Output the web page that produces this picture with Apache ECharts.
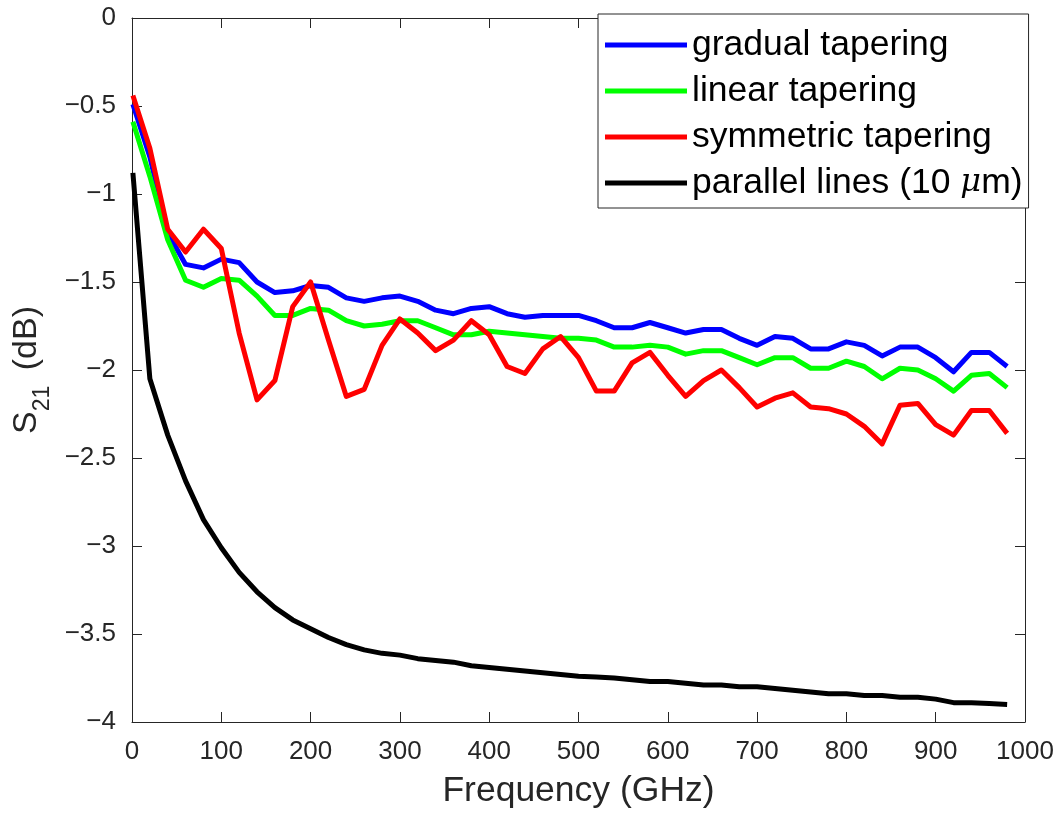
<!DOCTYPE html>
<html>
<head>
<meta charset="utf-8">
<script src="https://cdn.jsdelivr.net/npm/echarts@6/dist/echarts.min.js"></script>
<style>html,body{margin:0;padding:0;background:#fff;}#c{width:1061px;height:817px;}</style>
</head>
<body>
<div id="c"></div>
<script>
const freq = [1,20,40,60,80,100,120,140,160,180,200,220,240,260,280,300,320,340,360,380,400,420,440,460,480,500,520,540,560,580,600,620,640,660,680,700,720,740,760,780,800,820,840,860,880,900,920,940,960,980];
const gradual = [-0.49,-0.79,-1.22,-1.40,-1.42,-1.37,-1.39,-1.50,-1.56,-1.55,-1.52,-1.53,-1.59,-1.61,-1.59,-1.58,-1.61,-1.66,-1.68,-1.65,-1.64,-1.68,-1.70,-1.69,-1.69,-1.69,-1.72,-1.76,-1.76,-1.73,-1.76,-1.79,-1.77,-1.77,-1.82,-1.86,-1.81,-1.82,-1.88,-1.88,-1.84,-1.86,-1.92,-1.87,-1.87,-1.93,-2.01,-1.90,-1.90,-1.98];
const linear = [-0.59,-0.90,-1.26,-1.49,-1.53,-1.48,-1.49,-1.58,-1.69,-1.69,-1.65,-1.66,-1.72,-1.75,-1.74,-1.72,-1.72,-1.76,-1.80,-1.80,-1.78,-1.79,-1.80,-1.81,-1.82,-1.82,-1.83,-1.87,-1.87,-1.86,-1.87,-1.91,-1.89,-1.89,-1.93,-1.97,-1.93,-1.93,-1.99,-1.99,-1.95,-1.98,-2.05,-1.99,-2.00,-2.05,-2.12,-2.03,-2.02,-2.10];
const symmetric = [-0.44,-0.74,-1.20,-1.33,-1.20,-1.31,-1.79,-2.17,-2.06,-1.64,-1.50,-1.83,-2.15,-2.11,-1.86,-1.71,-1.79,-1.89,-1.83,-1.72,-1.80,-1.98,-2.02,-1.88,-1.81,-1.93,-2.12,-2.12,-1.96,-1.90,-2.03,-2.15,-2.06,-2.00,-2.10,-2.21,-2.16,-2.13,-2.21,-2.22,-2.25,-2.32,-2.42,-2.20,-2.19,-2.31,-2.37,-2.23,-2.23,-2.36];
const parallel = [-0.88,-2.05,-2.37,-2.63,-2.85,-3.01,-3.15,-3.26,-3.35,-3.42,-3.47,-3.52,-3.56,-3.59,-3.61,-3.62,-3.64,-3.65,-3.66,-3.68,-3.69,-3.70,-3.71,-3.72,-3.73,-3.74,-3.745,-3.75,-3.76,-3.77,-3.77,-3.78,-3.79,-3.79,-3.80,-3.80,-3.81,-3.82,-3.83,-3.84,-3.84,-3.85,-3.85,-3.86,-3.86,-3.87,-3.89,-3.89,-3.895,-3.90];
const seriesNames = ['gradual tapering','linear tapering','symmetric tapering','parallel lines (10 μm)'];
const seriesColors = ['#0000ff','#00ff00','#ff0000','#000000'];
const seriesValues = [gradual, linear, symmetric, parallel];
const xTickLabels = ['0','100','200','300','400','500','600','700','800','900','1000'];
const yTickLabels = ['\u22124','\u22123.5','\u22123','\u22122.5','\u22122','\u22121.5','\u22121','\u22120.5','0'];

const FONT = 'Liberation Sans';
const AX = '#262626';
const chart = echarts.init(document.getElementById('c'), null, {renderer:'canvas'});

function axisCommon(show) {
  return {
    axisLine: {show: true, onZero: false, lineStyle: {color: AX, width: 1}},
    axisTick: {show: true, inside: true, length: 10, lineStyle: {color: AX, width: 1}},
    splitLine: {show: false},
    axisLabel: {show: show}
  };
}

const series = seriesNames.map((n, i) => ({
  name: n,
  type: 'line',
  data: freq.map((f, k) => [f, seriesValues[i][k]]),
  symbol: 'none',
  showSymbol: false,
  lineStyle: {color: seriesColors[i], width: 5, join: 'round'},
  itemStyle: {color: seriesColors[i]},
  animation: false,
  z: 2 + i
}));

chart.setOption({
  backgroundColor: '#fff',
  animation: false,
  grid: {left: 132, right: 36, top: 18, bottom: 95},
  xAxis: [
    Object.assign(axisCommon(true), {
      type: 'value', min: 0, max: 1000, interval: 100, position: 'bottom',
      axisLabel: {show: true, color: AX, fontFamily: FONT, fontSize: 26, margin: 17,
        formatter: (v) => xTickLabels[Math.round(v / 100)]},
      name: 'Frequency (GHz)', nameLocation: 'middle', nameGap: 51,
      nameTextStyle: {color: AX, fontFamily: FONT, fontSize: 35.5}
    }),
    Object.assign(axisCommon(false), {type: 'value', min: 0, max: 1000, interval: 100, position: 'top'})
  ],
  yAxis: [
    Object.assign(axisCommon(true), {
      type: 'value', min: -4, max: 0, interval: 0.5, position: 'left',
      axisLabel: {show: true, color: AX, fontFamily: FONT, fontSize: 26, margin: 16,
        formatter: (v) => yTickLabels[Math.round((v + 4) / 0.5)]},
      name: '{s|S}{sub|21}{n| (dB)}', nameLocation: 'middle', nameGap: 76, nameRotate: 90,
      nameTextStyle: {color: AX, fontFamily: FONT,
        rich: {
          s: {fontSize: 34, fontFamily: FONT, color: AX, lineHeight: 44, verticalAlign: 'top'},
          sub: {fontSize: 23, fontFamily: FONT, color: AX, lineHeight: 44, verticalAlign: 'bottom'},
          n: {fontSize: 34, fontFamily: FONT, color: AX, lineHeight: 44, verticalAlign: 'top', padding: [0, 0, 0, 6]}
        }}
    }),
    Object.assign(axisCommon(false), {type: 'value', min: -4, max: 0, interval: 0.5, position: 'right'})
  ],
  legend: {
    show: true,
    orient: 'vertical',
    left: 598, top: 14,
    data: seriesNames,
    icon: 'rect',
    backgroundColor: '#fff',
    borderColor: AX, borderWidth: 1,
    padding: [13, 6, 7, 7],
    itemWidth: 82, itemHeight: 5, itemGap: 10, itemTextGap: 7,
    textStyle: {color: '#000', fontFamily: FONT, fontSize: 35.5, lineHeight: 36,
      rich: {i: {fontStyle: 'italic', fontFamily: 'DejaVu Serif', fontSize: 32, color: '#000'}}},
    formatter: (n) => n.replace('μ', '{i|μ}'),
    z: 10
  },
  series: series
});
</script>
</body>
</html>
